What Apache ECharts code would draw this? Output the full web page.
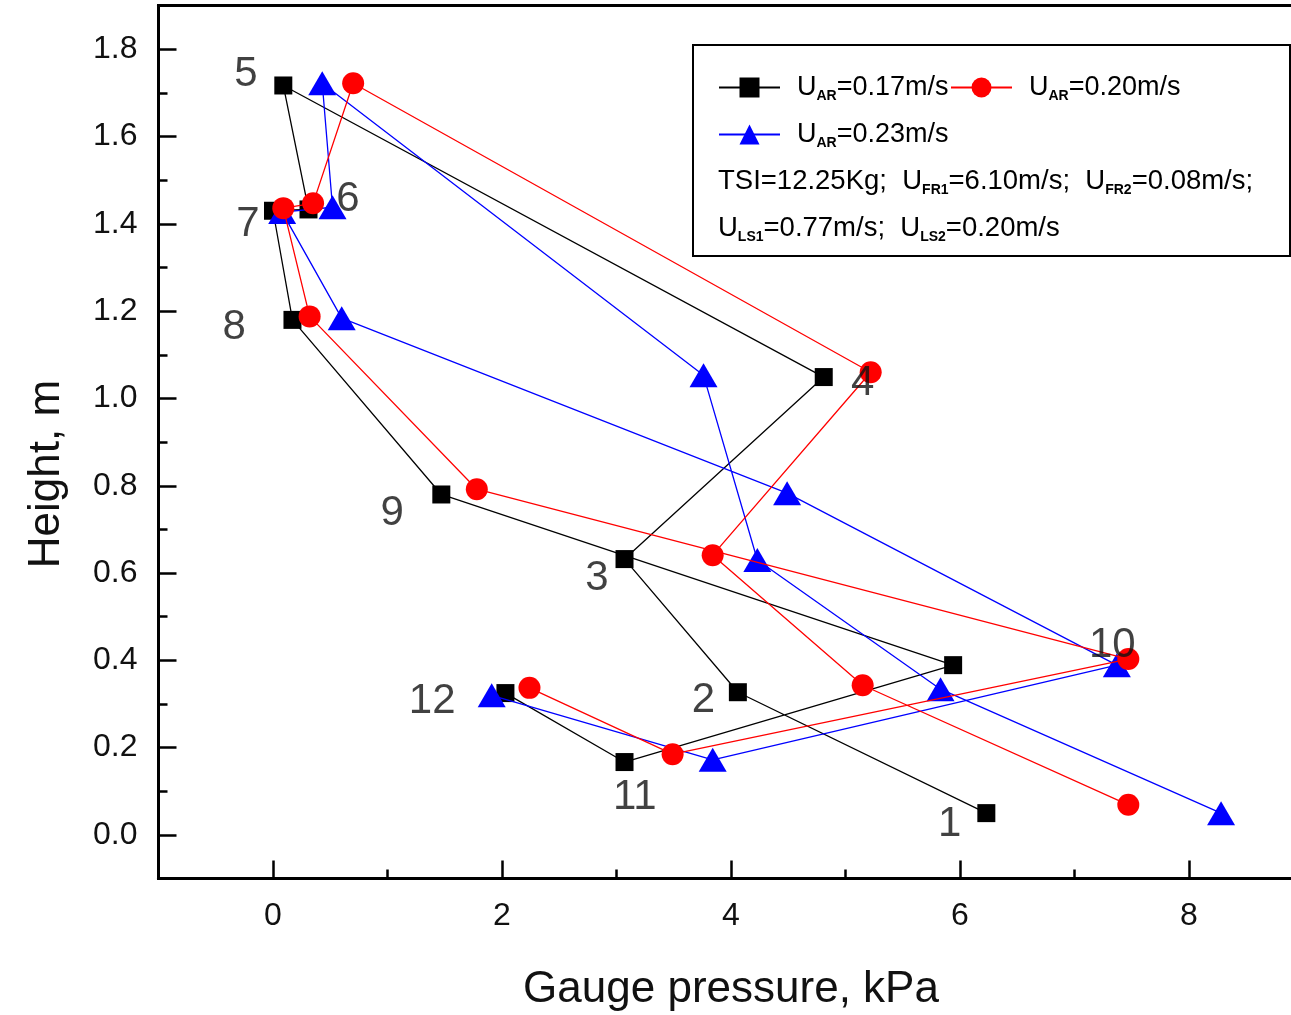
<!DOCTYPE html>
<html><head><meta charset="utf-8">
<script src="https://cdn.jsdelivr.net/npm/echarts@6/dist/echarts.min.js"></script>
<style>html,body{margin:0;padding:0;background:#fff}#c{width:1291px;height:1015px}</style>
</head><body><div id="c"></div>
<script>
// ---- data ----
const pointNumbers = ['1','2','3','4','5','6','7','8','9','10','11','12'];

// U_AR = 0.17 m/s
const pressure017 = [6.23, 4.06, 3.07, 4.81, 0.09, 0.31, 0.00, 0.17, 1.47, 5.94, 3.07, 2.03];
const height017   = [0.050, 0.327, 0.632, 1.049, 1.717, 1.433, 1.430, 1.180, 0.780, 0.389, 0.167, 0.325];
// U_AR = 0.20 m/s
const pressure020 = [7.47, 5.15, 3.84, 5.22, 0.70, 0.35, 0.09, 0.32, 1.78, 7.47, 3.49, 2.24];
const height020   = [0.069, 0.343, 0.641, 1.060, 1.722, 1.447, 1.436, 1.188, 0.792, 0.403, 0.185, 0.337];
// U_AR = 0.23 m/s
const pressure023 = [8.28, 5.83, 4.23, 3.76, 0.43, 0.52, 0.08, 0.60, 4.49, 7.37, 3.84, 1.91];
const height023   = [0.050, 0.334, 0.630, 1.053, 1.722, 1.438, 1.427, 1.184, 0.783, 0.389, 0.172, 0.320];

// positions of the point-number annotations (data units)
const labelPressure = [5.91, 3.76, 2.83, 5.15, -0.236, 0.655, -0.218, -0.34, 1.04, 7.33, 3.16, 1.39];
const labelHeight   = [0.023, 0.309, 0.588, 1.035, 1.743, 1.456, 1.399, 1.163, 0.737, 0.435, 0.085, 0.305];

// axis ticks
const xMajorTicks = [0, 2, 4, 6, 8];
const xMinorTicks = [1, 3, 5, 7];
const yMajorTicks = [0.0, 0.2, 0.4, 0.6, 0.8, 1.0, 1.2, 1.4, 1.6, 1.8];
const yMinorTicks = [0.1, 0.3, 0.5, 0.7, 0.9, 1.1, 1.3, 1.5, 1.7];

const legendRich = {
  s017: '{u|U}{s|AR}{m|=0.17m/s}',
  s020: '{u|U}{s|AR}{m|=0.20m/s}',
  s023: '{u|U}{s|AR}{m|=0.23m/s}'
};
const infoLine1 = '{m|TSI=12.25Kg;  U}{s|FR1}{m|=6.10m/s;  U}{s|FR2}{m|=0.08m/s;}';
const infoLine2 = '{m|U}{s|LS1}{m|=0.77m/s;  U}{s|LS2}{m|=0.20m/s}';

// ---- build ----
const FONT = "'Liberation Sans', Arial, sans-serif";
const pairs = (xs, ys) => xs.map((x, i) => [x, ys[i]]);

const richStyles = {
  u: { fontSize: 27, lineHeight: 32, color: '#000', fontFamily: FONT, padding: [0, 0, 0, 12] },
  m: { fontSize: 27, lineHeight: 32, color: '#000', fontFamily: FONT },
  s: { fontSize: 14, lineHeight: 14, color: '#000', fontFamily: FONT, fontWeight: 'bold', verticalAlign: 'bottom' }
};
const zrRich = {
  m: { fontSize: 27.5, lineHeight: 32, fill: '#000', fontFamily: FONT },
  s: { fontSize: 14, lineHeight: 14, fill: '#000', fontFamily: FONT, fontWeight: 'bold', verticalAlign: 'bottom' }
};

function legendAt(name, left, top) {
  return {
    data: [name], left: left, top: top, padding: 0, orient: 'horizontal',
    itemWidth: 61, itemHeight: 25, selectedMode: false,
    formatter: n => legendRich[n],
    textStyle: { fontSize: 27, color: '#000', fontFamily: FONT, rich: richStyles }
  };
}

const axisCommonX = { type: 'value', min: -1, max: 9, gridIndex: 0, position: 'bottom', splitLine: { show: false } };
const axisCommonY = { type: 'value', min: -0.1, max: 1.9, gridIndex: 0, position: 'left', splitLine: { show: false } };

const option = {
  backgroundColor: '#fff',
  animation: false,
  textStyle: { fontFamily: FONT },
  grid: { left: 158.5, width: 1145, top: 5.6, height: 873, outerBoundsMode: 'none', containLabel: false,
          show: true, borderColor: '#000', borderWidth: 3, backgroundColor: 'transparent' },
  xAxis: [
    Object.assign({}, axisCommonX, {
      axisLine: { show: true, onZero: false, lineStyle: { color: '#000', width: 3 } },
      axisTick: { show: true, inside: true, length: 18, lineStyle: { color: '#000', width: 2.5 }, customValues: xMajorTicks },
      axisLabel: { show: true, customValues: xMajorTicks, fontSize: 32, color: '#111', fontFamily: FONT, margin: 22 },
      name: 'Gauge pressure, kPa', nameLocation: 'middle', nameGap: 89,
      nameTextStyle: { fontSize: 44, color: '#111', fontFamily: FONT }
    }),
    Object.assign({}, axisCommonX, {
      axisLine: { show: false, onZero: false },
      axisTick: { show: true, inside: true, length: 9, lineStyle: { color: '#000', width: 2.5 }, customValues: xMinorTicks },
      axisLabel: { show: false }
    })
  ],
  yAxis: [
    Object.assign({}, axisCommonY, {
      axisLine: { show: true, onZero: false, lineStyle: { color: '#000', width: 3 } },
      axisTick: { show: true, inside: true, length: 18, lineStyle: { color: '#000', width: 2.5 }, customValues: yMajorTicks },
      axisLabel: { show: true, customValues: yMajorTicks, fontSize: 32, color: '#111', fontFamily: FONT, margin: 21,
        formatter: v => Number(v).toFixed(1) },
      name: 'Height, m', nameLocation: 'middle', nameGap: 90,
      nameTextStyle: { fontSize: 44, color: '#111', fontFamily: FONT, padding: [0, 64, 0, 0] }
    }),
    Object.assign({}, axisCommonY, {
      axisLine: { show: false, onZero: false },
      axisTick: { show: true, inside: true, length: 9, lineStyle: { color: '#000', width: 2.5 }, customValues: yMinorTicks },
      axisLabel: { show: false }
    })
  ],
  legend: [
    legendAt('s017', 718, 74),
    legendAt('s020', 950, 74),
    legendAt('s023', 718, 121)
  ],
  graphic: [
    { type: 'rect', shape: { x: 693, y: 45, width: 597, height: 211 }, style: { fill: 'transparent', stroke: '#000', lineWidth: 2 }, z: 1 },
    { type: 'text', left: 718, top: 167, style: { text: infoLine1, rich: zrRich, fill: '#000', fontSize: 27.5, fontFamily: FONT } },
    { type: 'text', left: 718, top: 214, style: { text: infoLine2, rich: zrRich, fill: '#000', fontSize: 27.5, fontFamily: FONT } }
  ],
  series: [
    { name: 's017', type: 'line', data: pairs(pressure017, height017), symbol: 'rect', symbolSize: 18,
      itemStyle: { color: '#000' }, lineStyle: { color: '#000', width: 1.3 }, clip: false, z: 3 },
    { name: 's023', type: 'line', data: pairs(pressure023, height023), symbol: 'triangle', symbolSize: [28, 24],
      itemStyle: { color: '#0000ff' }, lineStyle: { color: '#0000ff', width: 1.3 }, clip: false, z: 4 },
    { name: 's020', type: 'line', data: pairs(pressure020, height020), symbol: 'circle', symbolSize: 22,
      itemStyle: { color: '#ff0000' }, lineStyle: { color: '#ff0000', width: 1.3 }, clip: false, z: 5 },
    { name: 'numbers', type: 'scatter', symbol: 'circle', symbolSize: 1,
      itemStyle: { color: 'rgba(0,0,0,0)' }, z: 6, silent: true,
      data: pointNumbers.map((n, i) => ({ name: n, value: [labelPressure[i], labelHeight[i]] })),
      label: { show: true, position: 'inside', formatter: '{b}', fontSize: 42, color: '#111', fontFamily: FONT } }
  ]
};

const chart = echarts.init(document.getElementById('c'), null, { renderer: 'canvas' });
chart.setOption(option);
</script>
</body></html>
